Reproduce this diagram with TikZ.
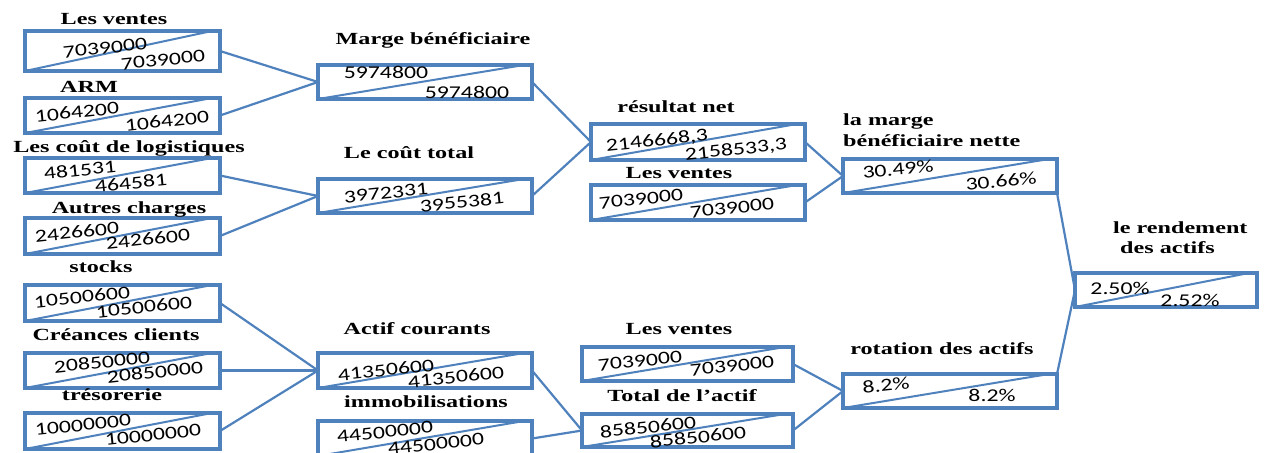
\documentclass[tikz,border=0pt]{standalone}
\usepackage{fontspec}
\newfontfamily\labfont[FakeStretch=1.42]{Liberation Serif}
\newfontfamily\numfont[FakeStretch=1.32]{Carlito}
\definecolor{ob}{HTML}{4F81BD}
\tikzset{
  bx/.style={draw=ob, line width=3.6pt, inner sep=0pt, outer sep=0pt},
  diag/.style={draw=ob, line width=2pt},
  conn/.style={draw=ob, line width=2.2pt},
  lab/.style={font=\labfont\bfseries\fontsize{17}{20}\selectfont, anchor=base, inner sep=0pt},
  labl/.style={font=\labfont\bfseries\fontsize{17}{20}\selectfont, anchor=base west, inner sep=0pt},
  num/.style={font=\numfont\fontsize{18}{20}\selectfont, inner sep=0pt, rotate=6},
}
\newcommand\bxat[5]{%
  \node[bx, minimum width={#4-#2}, minimum height={#5-#3}] (#1) at ({(#2+#4)/2},{(#3+#5)/2}) {};
  \draw[diag] (#1.south west) -- ([xshift=-8pt]#1.north east);}
\begin{document}
\begin{tikzpicture}[x=1pt,y=-1pt]
\useasboundingbox (0,0) rectangle (1265,452);
% column 1
\bxat{v1}{25}{31}{220}{71}
\bxat{arm}{25}{98}{220}{133}
\bxat{log}{25}{158}{220}{193}
\bxat{aut}{25}{218}{220}{254}
\bxat{sto}{25}{285}{220}{321}
\bxat{cre}{25}{353}{220}{388}
\bxat{tre}{25}{413}{220}{449}
% column 2
\bxat{mb}{318}{65}{532}{99}
\bxat{ct}{318}{179}{532}{213}
\bxat{ac}{318}{353}{532}{388}
\bxat{imm}{318}{421}{532}{456}
% column 3
\bxat{rn}{591}{124}{805}{160}
\bxat{v2}{591}{185}{805}{220}
\bxat{v3}{582}{347}{793}{381}
\bxat{ta}{582}{414}{793}{447}
% column 4
\bxat{mn}{843}{159}{1057}{193}
\bxat{rot}{843}{374}{1057}{408}
% column 5
\bxat{rd}{1075}{273}{1257}{307}

% labels
\node[lab] (l1) at (114,25) {Les ventes};
\node[lab] (l2) at (89,92) {ARM};
\node[lab] (l3) at (129,152) {Les coût de logistiques};
\node[lab] (l4) at (129,213) {Autres charges};
\node[lab] (l5) at (101,272) {stocks};
\node[lab] (l6) at (116,340) {Créances clients};
\node[lab] (l7) at (112,400) {trésorerie};
\node[lab] (l8) at (433,45) {Marge bénéficiaire};
\node[lab] (l9) at (409,158) {Le coût total};
\node[lab] (l10) at (417,334) {Actif courants};
\node[lab] (l11) at (426,407) {immobilisations};
\node[lab] (l12) at (676,112) {résultat net};
\node[lab] (l13) at (679,178) {Les ventes};
\node[lab] (l14) at (679,334) {Les ventes};
\node[lab] (l15) at (682,401) {Total de l’actif};
\node[labl] (l16) at (843,125) {la marge};
\node[labl] (l17) at (843,146) {bénéficiaire nette};
\node[lab] (l18) at (942,354) {rotation des actifs};
\node[labl] (l19) at (1113,233) {le rendement};
\node[labl] (l20) at (1120,253) {des actifs};

% numbers
\node[num] (n1a) at (105,48) {7039000};
\node[num] (n1b) at (163,60) {7039000};
\node[num] (n2a) at (77,112) {1064200};
\node[num] (n2b) at (167,121) {1064200};
\node[num] (n3a) at (80,170) {481531};
\node[num] (n3b) at (131,183) {464581};
\node[num] (n4a) at (77,232) {2426600};
\node[num] (n4b) at (148,239) {2426600};
\node[num] (n5a) at (82,297) {10500600};
\node[num] (n5b) at (144,307) {10500600};
\node[num] (n6a) at (102,362) {20850000};
\node[num] (n6b) at (155,372) {20850000};
\node[num] (n7a) at (83,425) {10000000};
\node[num] (n7b) at (153,435) {10000000};
\node[num,rotate=-6] (n8a) at (386,72) {5974800};
\node[num,rotate=-6] (n8b) at (467,92) {5974800};
\node[num] (n9a) at (386,193) {3972331};
\node[num] (n9b) at (462,202) {3955381};
\node[num] (n10a) at (386,370) {41350600};
\node[num] (n10b) at (456,377) {41350600};
\node[num] (n11a) at (385,432) {44500000};
\node[num] (n11b) at (436,444) {44500000};
\node[num] (n12a) at (657,141) {2146668,3};
\node[num] (n12b) at (736,150) {2158533,3};
\node[num] (n13a) at (641,199) {7039000};
\node[num] (n13b) at (732,208) {7039000};
\node[num] (n14a) at (640,361) {7039000};
\node[num] (n14b) at (732,366) {7039000};
\node[num] (n15a) at (648,427) {85850600};
\node[num] (n15b) at (698,437) {85850600};
\node[num] (n16a) at (898,169) {30.49\%};
\node[num] (n16b) at (1001,181) {30.66\%};
\node[num] (n17a) at (886,385) {8.2\%};
\node[num,rotate=-6] (n17b) at (992,395) {8.2\%};
\node[num,rotate=-6] (n18a) at (1120,288) {2.50\%};
\node[num,rotate=-6] (n18b) at (1190,300) {2.52\%};

% connectors
\draw[conn] (v1.east) -- (mb.west);
\draw[conn] (arm.east) -- (mb.west);
\draw[conn] (log.east) -- (ct.west);
\draw[conn] (aut.east) -- (ct.west);
\draw[conn] (sto.east) -- (ac.west);
\draw[conn] (cre.east) -- (ac.west);
\draw[conn] (tre.east) -- (ac.west);
\draw[conn] (mb.east) -- (rn.west);
\draw[conn] (ct.east) -- (rn.west);
\draw[conn] (ac.east) -- (ta.west);
\draw[conn] (imm.east) -- (ta.west);
\draw[conn] (rn.east) -- (mn.west);
\draw[conn] (v2.east) -- (mn.west);
\draw[conn] (v3.east) -- (rot.west);
\draw[conn] (ta.east) -- (rot.west);
\draw[conn] (mn.south east) -- (rd.west);
\draw[conn] (rot.north east) -- (rd.west);
\end{tikzpicture}
\end{document}
